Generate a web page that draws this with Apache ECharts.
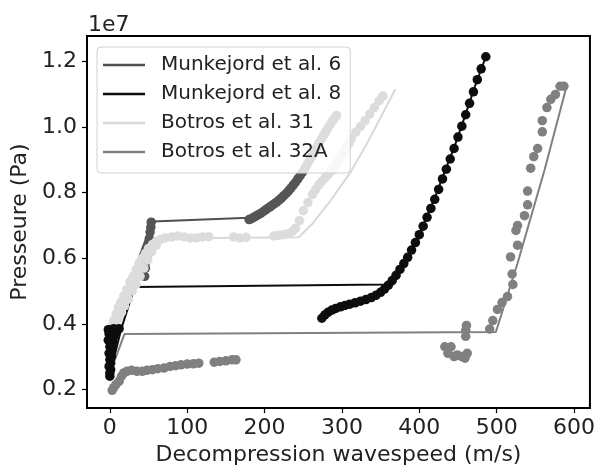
<!DOCTYPE html>
<html>
<head>
<meta charset="utf-8">
<script src="https://cdn.jsdelivr.net/npm/echarts@6/dist/echarts.min.js"></script>
<style>
html,body{margin:0;padding:0;background:#fff;}
#chart{width:598px;height:471px;}
</style>
</head>
<body>
<div id="chart"></div>
<script>
// ---- data (x in m/s, y in MPa -> converted to Pa) ----
const seriesNames = ['Munkejord et al. 6', 'Munkejord et al. 8', 'Botros et al. 31', 'Botros et al. 32A'];
const xTicks = [0, 100, 200, 300, 400, 500, 600];
const yTicks = [2e6, 4e6, 6e6, 8e6, 10e6, 12e6];

const munk6Line = [[0,2.5],[2,3.5],[4,3.9],[55,7.12],[180,7.24],[202,7.5],[222,7.84],[240,8.36],[270,9.56],[293,10.34]];
const munk6Pts = [[45,5.45],[46,5.7],[47,5.9],[48,6.1],[49,6.3],[50,6.45],[51,6.6],[52,6.8],[53,6.95],[53.5,7.1],
  [180,7.18],[183,7.21],[186,7.25],[189,7.29],[192,7.33],[195,7.37],[198,7.42],[201,7.47],[204,7.52],[207,7.57],[210,7.62],
  [213,7.67],[216,7.72],[219,7.78],[222,7.84],[225,7.91],[228,7.98],[231,8.06],[234,8.14],[237,8.23],
  [240,8.32],[243,8.42],[246,8.52],[249,8.63],[252,8.74],[255,8.86],[258,8.98],[261,9.1],[264,9.22],[267,9.36],
  [270,9.5],[273,9.62],[276,9.74],[279,9.86],[282,9.98],[285,10.09],[288,10.2],[291,10.29],[293,10.36]];

const munk8Line = [[0,2.45],[15,3.87],[32,5.12],[356,5.2],[369,5.43],[386,6.04],[402,6.85],[420,7.84],[433,8.66],[446,9.44],[459,10.34],[472,11.25],[486,12.15]];
const munk8Pts = [[0,2.4],[0,2.5],[1,2.6],[-1,2.7],[1,2.8],[0,2.9],[2,3.0],[-1,3.1],[1,3.15],[3,3.25],[0,3.3],[2,3.4],[4,3.45],[-2,3.5],[1,3.55],[5,3.6],[3,3.65],[-1,3.7],[7,3.72],[2,3.78],[9,3.8],[12,3.85],[-2,3.82],[5,3.85],
  [274,4.17],[278,4.27],[282,4.35],[287,4.42],[292,4.47],[298,4.52],[304,4.56],[310,4.6],[317,4.64],[324,4.69],
  [331,4.74],[338,4.8],[344,4.87],[350,4.96],[355,5.06],[360,5.18],[365,5.32],[370,5.48],[375,5.66],[380,5.84],
  [385,6.03],[390,6.25],[395,6.48],[400,6.72],[405,6.98],[410,7.25],[415,7.52],[420,7.8],[425,8.1],[430,8.42],
  [435,8.72],[440,9.03],[445,9.35],[450,9.7],[455,10.03],[460,10.38],[465,10.73],[470,11.08],[475,11.45],[480,11.78],[486,12.15]];

const botros31Line = [[0,3.3],[4,3.9],[55,6.6],[244,6.64],[261,7.03],[285,7.75],[312,8.66],[330,9.4],[347,10.16],[369,11.16]];
const botros31Pts = [[1,3.5],[2,3.7],[3,3.93],[5,4.1],[8,4.3],[11,4.5],[14,4.65],[18,4.85],[22,5.05],[26,5.28],
  [30,5.45],[34,5.65],[38,5.85],[42,6.0],[46,6.15],[50,6.3],[55,6.42],[60,6.52],[66,6.58],[72,6.62],[80,6.65],
  [7,3.95],[11,4.15],[15,4.35],[19,4.55],[24,4.75],[29,5.0],[34,5.2],[39,5.45],[44,5.7],[49,5.95],[54,6.2],[60,6.4],
  [88,6.68],[96,6.65],[104,6.62],[112,6.62],[120,6.65],[128,6.66],[160,6.65],[168,6.62],[176,6.64],
  [212,6.68],[218,6.7],[224,6.72],[230,6.75],[236,6.82],[240,6.92],[245,7.15],[250,7.45],[256,7.7],[262,7.95],
  [266,8.1],[270,8.24],[274,8.35],[278,8.45],[282,8.55],[286,8.65],[289,8.74],[292,8.84],[295,8.96],[298,9.08],[302,9.22],[305,9.36],[309,9.5],[312,9.65],[318,9.85],[324,10.02],[330,10.2],
  [336,10.4],[342,10.6],[348,10.8],[353,10.95]];

const botros32ALine = [[0,2.55],[2,2.62],[19,3.69],[499,3.75],[527,5.85],[562,8.7],[591,11.3]];
const botros32APts = [[3,1.97],[5,2.05],[8,2.15],[12,2.25],[15,2.4],[18,2.5],[22,2.55],[28,2.58],[35,2.55],[42,2.55],
  [48,2.58],[55,2.6],[62,2.63],[70,2.65],[78,2.7],[85,2.72],[92,2.75],[100,2.77],[108,2.78],[115,2.8],
  [135,2.83],[142,2.85],[150,2.87],[158,2.9],[163,2.9],
  [433,3.3],[437,3.1],[441,3.3],[445,3.0],[449,3.05],[455,3.0],[459,2.95],[462,3.1],[460,3.62],[460,3.8],[461,3.95],
  [491,3.84],[495,4.1],[501,4.44],[507,4.65],[514,4.83],[520,5.52],[518,6.04],[521,5.2],[525,6.85],[527,6.4],[527,7.0],
  [536,7.3],[540,7.63],[540,8.05],[544,8.75],[548,9.1],[553,9.35],[559,9.86],[559,10.2],[565,10.6],[570,10.85],
  [576,11.0],[582,11.25],[587,11.25]];

// ---- build chart ----
const toPa = arr => arr.map(p => [p[0], p[1] * 1e6]);
const colors = ['#505050', '#0d0d0d', '#d9d9d9', '#808080'];
const FONT = 'DejaVu Sans';
const LINE_ICON = 'path://M0,0H42V2.6H0Z';

function lineSeries(name, data, color) {
  return { name, type: 'line', data: toPa(data), symbol: 'none', z: 2,
    lineStyle: { color, width: 2 }, itemStyle: { color }, animation: false };
}
function scatterSeries(name, data, color, z) {
  return { name, type: 'scatter', data: toPa(data), symbol: 'circle', symbolSize: 9.5, z,
    itemStyle: { color, opacity: 1 }, animation: false };
}

const chart = echarts.init(document.getElementById('chart'), null, { renderer: 'canvas' });
chart.setOption({
  backgroundColor: '#fff',
  animation: false,
  grid: { left: 87, top: 36, right: 5, bottom: 58, show: true, borderColor: '#000', borderWidth: 2, backgroundColor: 'transparent' },
  xAxis: {
    type: 'value', min: -29.55, max: 620.6,
    name: 'Decompression wavespeed (m/s)', nameLocation: 'middle', nameGap: 34,
    nameTextStyle: { fontFamily: FONT, fontSize: 22, color: '#222' },
    axisLine: { show: true, onZero: false, lineStyle: { color: '#000', width: 2 } },
    axisTick: { show: true, inside: false, length: 5, lineStyle: { color: '#000', width: 1.2 }, customValues: xTicks },
    axisLabel: { customValues: xTicks, fontFamily: FONT, fontSize: 22, color: '#222', margin: 9 },
    splitLine: { show: false }
  },
  yAxis: {
    type: 'value', min: 1.428e6, max: 12.783e6,
    name: 'Presseure (Pa)', nameLocation: 'middle', nameGap: 52, nameRotate: 90,
    nameTextStyle: { fontFamily: FONT, fontSize: 22, color: '#222' },
    axisLine: { show: true, onZero: false, lineStyle: { color: '#000', width: 2 } },
    axisTick: { show: true, inside: false, length: 5, lineStyle: { color: '#000', width: 1.2 }, customValues: yTicks },
    axisLabel: { customValues: yTicks, fontFamily: FONT, fontSize: 22, color: '#222', margin: 10,
      formatter: v => (v / 1e7).toFixed(1) },
    splitLine: { show: false }
  },
  legend: {
    data: seriesNames.map(n => ({ name: n, icon: LINE_ICON })),
    orient: 'vertical', left: 97, top: 47,
    padding: [8, 9, 11, 6],
    itemWidth: 42, itemHeight: 14, itemGap: 9,
    backgroundColor: 'rgba(255,255,255,0.8)', borderColor: '#d0d0d0', borderWidth: 1, borderRadius: 4,
    textStyle: { fontFamily: FONT, fontSize: 20, color: '#222', padding: [0, 0, 0, 11] },
    z: 10
  },
  graphic: [{
    type: 'text', left: 88, top: 14,
    style: { text: '1e7', font: '22px "DejaVu Sans"', fill: '#222' }
  }],
  series: [
    lineSeries(seriesNames[0], munk6Line, colors[0]),
    lineSeries(seriesNames[1], munk8Line, colors[1]),
    lineSeries(seriesNames[2], botros31Line, colors[2]),
    lineSeries(seriesNames[3], botros32ALine, colors[3]),
    scatterSeries('m6pts', munk6Pts, '#555555', 3),
    scatterSeries('b31pts', botros31Pts, '#dcdcdc', 3),
    scatterSeries('b32pts', botros32APts, '#808080', 3),
    scatterSeries('m8pts', munk8Pts, '#0d0d0d', 4)
  ]
});
</script>
</body>
</html>
